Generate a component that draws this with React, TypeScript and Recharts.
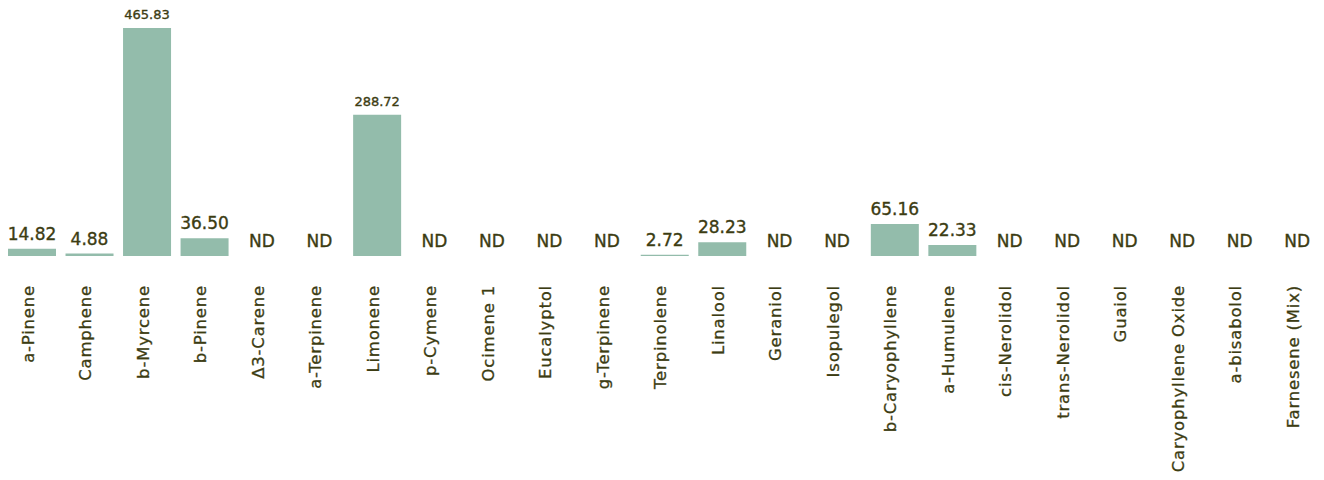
import { BarChart, Bar, XAxis, YAxis, LabelList } from "recharts";

const terpenos = [
  "a-Pinene", "Camphene", "b-Myrcene", "b-Pinene", "Δ3-Carene", "a-Terpinene",
  "Limonene", "p-Cymene", "Ocimene 1", "Eucalyptol", "g-Terpinene", "Terpinolene",
  "Linalool", "Geraniol", "Isopulegol", "b-Caryophyllene", "a-Humulene",
  "cis-Nerolidol", "trans-Nerolidol", "Guaiol", "Caryophyllene Oxide",
  "a-bisabolol", "Farnesene (Mix)",
];

// 0 = não detectado (ND)
const valores = [
  14.82, 4.88, 465.83, 36.5, 0, 0,
  288.72, 0, 0, 0, 0, 2.72,
  28.23, 0, 0, 65.16, 22.33,
  0, 0, 0, 0,
  0, 0,
];

const dados = terpenos.map((nome, i) => ({ nome, valor: valores[i] }));

const COR_BARRA = "#93bcab";
const COR_TEXTO = "#3c3c12";
const FONTE = "'DejaVu Sans', sans-serif";

function RotuloValor(props: any) {
  const { x, y, width, value } = props;
  const v = Number(value);
  if (!(v > 0)) return null;
  const tamanho = v >= 100 ? 13 : 17;
  return (
    <text
      x={x + width / 2}
      y={y - 9}
      textAnchor="middle"
      fill={COR_TEXTO}
      stroke={COR_TEXTO}
      strokeWidth={0.35}
      fontSize={tamanho}
      fontFamily={FONTE}
    >
      {v.toFixed(2)}
    </text>
  );
}

// o eixo também escreve "ND" sobre as categorias sem valor
function TickCategoria(props: any) {
  const { x, y, payload, index } = props;
  const px = x - 4;
  const py = y + 21;
  const nd = !(valores[index] > 0);
  return (
    <g>
      {nd && (
        <text
          x={x}
          y={y - 17}
          textAnchor="middle"
          fill={COR_TEXTO}
          stroke={COR_TEXTO}
          strokeWidth={0.35}
          fontSize={17}
          fontFamily={FONTE}
        >
          ND
        </text>
      )}
      <text
        x={px}
        y={py}
        dy="0.35em"
        transform={`rotate(-90, ${px}, ${py})`}
        textAnchor="end"
        fill={COR_TEXTO}
        stroke={COR_TEXTO}
        strokeWidth={0.3}
        fontSize={16.5}
        letterSpacing={0.8}
        fontFamily={FONTE}
      >
        {payload.value}
      </text>
    </g>
  );
}

export default function App() {
  return (
    <div style={{ margin: -8, width: 1324, height: 480, overflow: "hidden", background: "#fff" }}>
      <BarChart
        width={1330}
        height={480}
        data={dados}
        margin={{ top: 28, right: 4, bottom: 0, left: 3 }}
        barSize={48}
      >
        <XAxis
          dataKey="nome"
          interval={0}
          axisLine={false}
          tickLine={false}
          height={224}
          tick={<TickCategoria />}
        />
        <YAxis hide domain={[0, 465.83]} />
        <Bar dataKey="valor" fill={COR_BARRA} isAnimationActive={false}>
          <LabelList dataKey="valor" content={<RotuloValor />} />
        </Bar>
      </BarChart>
    </div>
  );
}
